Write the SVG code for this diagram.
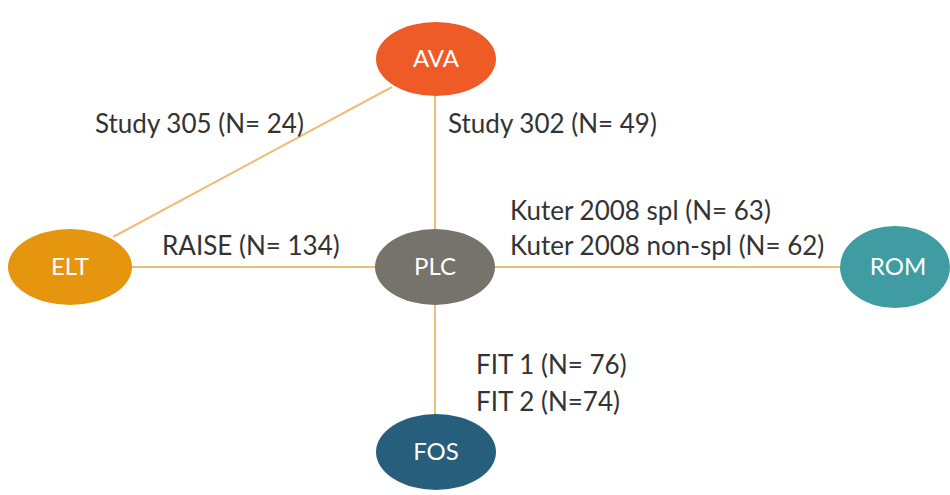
<svg xmlns="http://www.w3.org/2000/svg" width="950" height="495" viewBox="0 0 950 495">
<style>
.edge{stroke:#EDBE74;stroke-width:2;fill:none}
.lbl{font-family:Lato,"Open Sans","Liberation Sans",sans-serif;font-size:26px;fill:#333}
.nl{font-family:Lato,"Open Sans","Liberation Sans",sans-serif;font-size:24px;fill:#fff;text-anchor:middle}
</style>
<rect width="950" height="495" fill="#fff"/>
<g id="connectors">
<line class="edge" x1="392" y1="87" x2="113" y2="237"/>
<line class="edge" x1="435" y1="95" x2="435" y2="230"/>
<line class="edge" x1="131" y1="267" x2="376" y2="267"/>
<line class="edge" x1="494" y1="267" x2="841" y2="267"/>
<line class="edge" x1="435" y1="304" x2="435" y2="415"/>
</g>
<g id="labels">
<text class="lbl" x="95" y="133">Study 305 (N= 24)</text>
<text class="lbl" x="448" y="133">Study 302 (N= 49)</text>
<text class="lbl" x="162" y="255">RAISE (N= 134)</text>
<text class="lbl" x="510" y="220">Kuter 2008 spl (N= 63)</text>
<text class="lbl" x="510" y="255">Kuter 2008 non-spl (N= 62)</text>
<text class="lbl" x="476" y="374">FIT 1 (N= 76)</text>
<text class="lbl" x="476" y="411">FIT 2 (N=74)</text>
</g>
<g id="AVA"><ellipse cx="436" cy="59" rx="60" ry="37" fill="#EF5B27"/><text class="nl" x="436" y="67">AVA</text></g>
<g id="ELT"><ellipse cx="70" cy="267" rx="62" ry="38" fill="#E6950F"/><text class="nl" x="70" y="275">ELT</text></g>
<g id="PLC"><ellipse cx="435" cy="267" rx="60" ry="38" fill="#76726C"/><text class="nl" x="435" y="275">PLC</text></g>
<g id="ROM"><ellipse cx="895" cy="267" rx="55" ry="41" fill="#3F9CA2"/><text class="nl" x="898" y="275">ROM</text></g>
<g id="FOS"><ellipse cx="436" cy="452" rx="60" ry="38" fill="#275E7C"/><text class="nl" x="436" y="460">FOS</text></g>
</svg>
